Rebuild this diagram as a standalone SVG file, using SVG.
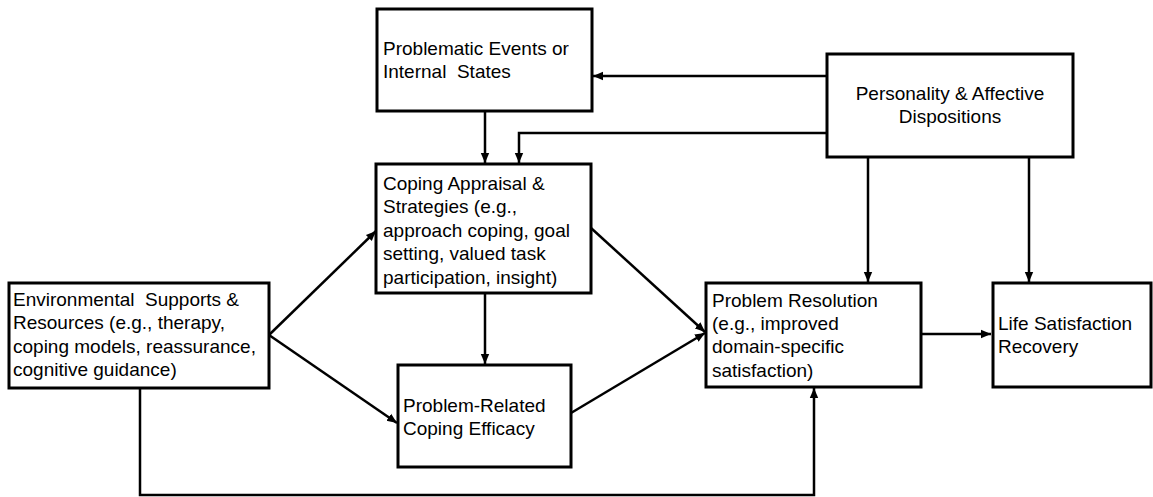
<svg xmlns="http://www.w3.org/2000/svg" width="1153" height="497" viewBox="0 0 1153 497">
<style>
.box{fill:#fff;stroke:#000;stroke-width:3}
.t{font-family:"Liberation Sans",Arial,sans-serif;font-size:19px;fill:#000}
.c{fill:none;stroke:#000;stroke-width:2.5}
</style>
<defs>
<marker id="ah" markerUnits="userSpaceOnUse" markerWidth="10" markerHeight="10" viewBox="0 0 10 10" refX="10" refY="5" orient="auto">
<path d="M0,0.8 L10,5 L0,9.2 Z" fill="#000"/>
</marker>
</defs>
<rect width="1153" height="497" fill="#fff"/>
<g id="connectors">
<path class="c" d="M827,76 L593,76" marker-end="url(#ah)"/>
<path class="c" d="M827,133 L519,133 L519,163" marker-end="url(#ah)"/>
<path class="c" d="M485,111 L485,163" marker-end="url(#ah)"/>
<path class="c" d="M485,293 L485,364" marker-end="url(#ah)"/>
<path class="c" d="M269,335 L376,231" marker-end="url(#ah)"/>
<path class="c" d="M269,335 L397,423" marker-end="url(#ah)"/>
<path class="c" d="M591,228 L705,332" marker-end="url(#ah)"/>
<path class="c" d="M571,413 L705,333" marker-end="url(#ah)"/>
<path class="c" d="M868,157 L868,282" marker-end="url(#ah)"/>
<path class="c" d="M1029,157 L1029,282" marker-end="url(#ah)"/>
<path class="c" d="M921,334 L991,334" marker-end="url(#ah)"/>
<path class="c" d="M140,388 L140,495 L814,495 L814,388" marker-end="url(#ah)"/>
</g>
<g id="problematic">
<rect class="box" x="377" y="9" width="215" height="102"/>
<text class="t" x="383" y="55">Problematic Events or</text>
<text class="t" x="383" y="78" xml:space="preserve">Internal  States</text>
</g>
<g id="personality">
<rect class="box" x="827" y="54" width="246" height="103"/>
<text class="t" x="950" y="100" text-anchor="middle">Personality &amp; Affective</text>
<text class="t" x="950" y="123" text-anchor="middle">Dispositions</text>
</g>
<g id="coping">
<rect class="box" x="376" y="164" width="215" height="129"/>
<text class="t" x="383" y="190">Coping Appraisal &amp;</text>
<text class="t" x="383" y="213">Strategies (e.g.,</text>
<text class="t" x="383" y="237">approach coping, goal</text>
<text class="t" x="383" y="260">setting, valued task</text>
<text class="t" x="383" y="284">participation, insight)</text>
</g>
<g id="environmental">
<rect class="box" x="9" y="283" width="260" height="105"/>
<text class="t" x="13" y="306" xml:space="preserve">Environmental  Supports &amp;</text>
<text class="t" x="13" y="329">Resources (e.g., therapy,</text>
<text class="t" x="13" y="353">coping models, reassurance,</text>
<text class="t" x="13" y="376">cognitive guidance)</text>
</g>
<g id="efficacy">
<rect class="box" x="398" y="365" width="173" height="102"/>
<text class="t" x="403" y="412">Problem-Related</text>
<text class="t" x="403" y="435">Coping Efficacy</text>
</g>
<g id="resolution">
<rect class="box" x="706" y="283" width="215" height="104"/>
<text class="t" x="712" y="307">Problem Resolution</text>
<text class="t" x="712" y="330">(e.g., improved</text>
<text class="t" x="712" y="353">domain-specific</text>
<text class="t" x="712" y="377">satisfaction)</text>
</g>
<g id="life">
<rect class="box" x="993" y="283" width="158" height="104"/>
<text class="t" x="998" y="330">Life Satisfaction</text>
<text class="t" x="998" y="353">Recovery</text>
</g>
</svg>
